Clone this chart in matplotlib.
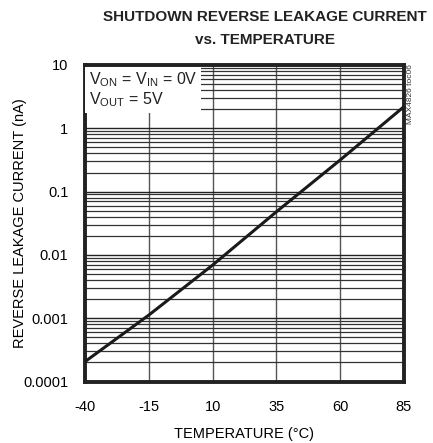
import matplotlib
matplotlib.use("Agg")
import matplotlib.pyplot as plt
import numpy as np
from matplotlib.ticker import NullFormatter, LogLocator

temps = [-40, -15, 10, 35, 60, 85]
leakage_nA = [2.06e-4, 1.12e-3, 6.9e-3, 0.048, 0.316, 2.2]
xticks = [-40, -15, 10, 35, 60, 85]
xticklabels = ["-40", "-15", "10", "35", "60", "85"]
yticks = [1e-4, 1e-3, 1e-2, 1e-1, 1, 10]
yticklabels = ["0.0001", "0.001", "0.01", "0.1", "1", "10"]

FONT = ["Liberation Sans Narrow", "Liberation Sans", "DejaVu Sans"]
plt.rcParams['font.family'] = FONT

fig = plt.figure(figsize=(4.33, 4.43), dpi=100)
ax = fig.add_axes([85/433, 1-381.5/443, (404-85)/433, (381.5-65)/443])

ax.set_yscale('log')
ax.set_xlim(-40, 85)
ax.set_ylim(1e-4, 10)

ax.set_xticks(xticks)
ax.set_xticklabels(xticklabels, fontsize=10.5)
ax.set_yticks(yticks)
ax.set_yticklabels(yticklabels, fontsize=10.5)
ax.yaxis.set_minor_locator(LogLocator(base=10, subs=np.arange(2, 10)))
ax.yaxis.set_minor_formatter(NullFormatter())
ax.tick_params(which='both', length=0)
ax.tick_params(axis='y', pad=12)
ax.tick_params(axis='x', pad=13)

ax.grid(True, which='major', axis='x', color='#555555', linewidth=1.0)
ax.grid(True, which='major', axis='y', color='#222222', linewidth=1.0)
ax.grid(True, which='minor', axis='y', color='#333333', linewidth=0.9)

ax.plot(temps, leakage_nA, color='#1a1a1a', linewidth=2.2, zorder=5)

for s in ax.spines.values():
    s.set_linewidth(2.8)
    s.set_color('#222222')

ax.set_xlabel("TEMPERATURE (°C)", fontsize=10.5)
ax.xaxis.set_label_coords(0.5, -0.145)
ax.set_ylabel("REVERSE LEAKAGE CURRENT (nA)", fontsize=10.5)
ax.yaxis.set_label_coords(-0.183, 0.5)

fig.text(265/433, 1-17/443, "SHUTDOWN REVERSE LEAKAGE CURRENT", ha='center', va='center',
         fontsize=11, fontweight='bold', color='#222222')
fig.text(265/433, 1-40/443, "vs. TEMPERATURE", ha='center', va='center',
         fontsize=11, fontweight='bold', color='#222222')

ax.text(0.012, 0.982, "$\\mathregular{V_{ON}}$ = $\\mathregular{V_{IN}}$ = 0V\n$\\mathregular{V_{OUT}}$ = 5V",
        transform=ax.transAxes, ha='left', va='top', fontsize=11.5, linespacing=1.1,
        color='#222222',
        bbox=dict(facecolor='white', edgecolor='none', pad=2.5), zorder=6)

fig.text(411/433, 1-94/443, "MAX4826 toc06", rotation=90, ha='center', va='center',
         fontsize=6, color='#333333')

fig.savefig("out.png", dpi=100)
